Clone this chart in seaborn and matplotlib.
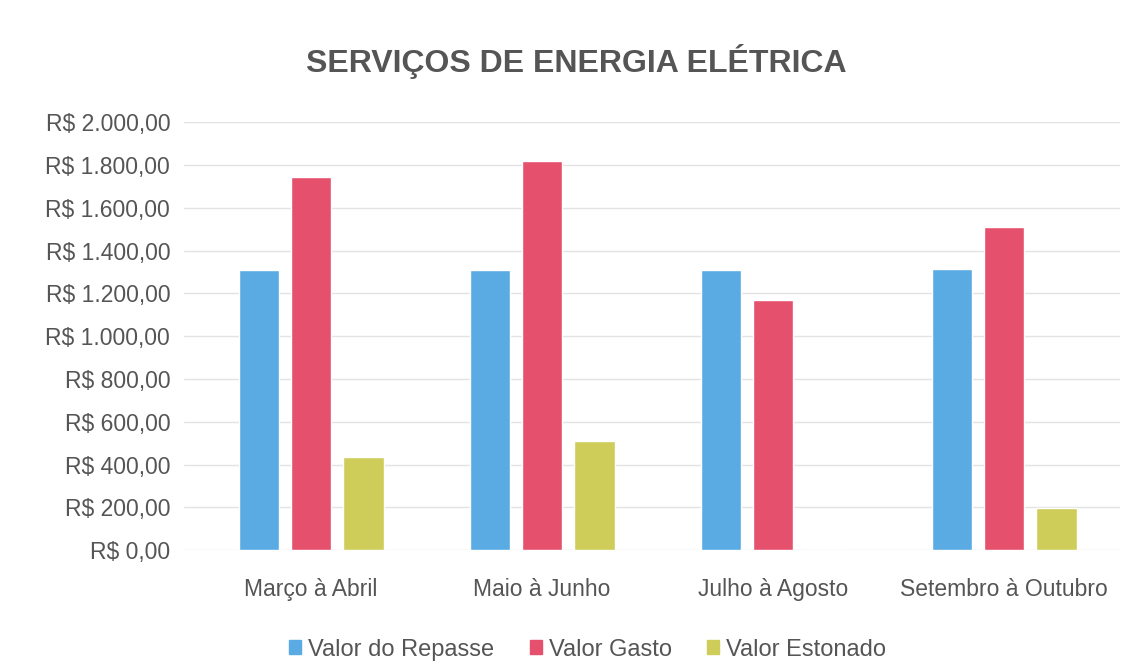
import matplotlib
matplotlib.use("Agg")
import matplotlib.pyplot as plt
from matplotlib.ticker import FuncFormatter, MultipleLocator
from matplotlib.patches import Rectangle
import seaborn as sns
import pandas as pd

categories = ["Março à Abril", "Maio à Junho", "Julho à Agosto", "Setembro à Outubro"]
series = ["Valor do Repasse", "Valor Gasto", "Valor Estonado"]
valor_repasse = [1310, 1310, 1310, 1312]
valor_gasto = [1745, 1820, 1170, 1512]
valor_estonado = [435, 510, 0, 195]
colors = ["#5AABE3", "#E5506D", "#CFCD5A"]

rows = []
for s, vals in zip(series, [valor_repasse, valor_gasto, valor_estonado]):
    for c, v in zip(categories, vals):
        rows.append({"Período": c, "Série": s, "Valor": v})
df = pd.DataFrame(rows)

sns.set_theme(style="white")
plt.rcParams['font.family'] = ['Liberation Sans', 'DejaVu Sans']

fig = plt.figure(figsize=(11.41, 6.71), dpi=100)
ax = fig.add_axes([0.1613, 0.180, 0.8199, 0.638])

sns.barplot(data=df, x="Período", y="Valor", hue="Série", hue_order=series,
            palette=colors, width=0.68, gap=0.23, saturation=1, ax=ax,
            errorbar=None, legend=False)

ax.set_ylim(0, 2000)
ax.set_xlim(-0.55, 3.5)
ax.yaxis.set_major_locator(MultipleLocator(200))

def brl(v, pos):
    s = f"{v:,.2f}".replace(",", "X").replace(".", ",").replace("X", ".")
    return f"R$ {s}"

ax.yaxis.set_major_formatter(FuncFormatter(brl))
ax.grid(axis="y", color="#E3E3E3", linewidth=1)
ax.set_axisbelow(True)
for sp in ax.spines.values():
    sp.set_visible(False)
ax.set_xlabel("")
ax.set_ylabel("")
ax.tick_params(axis="y", labelsize=16.5, colors="#555555", length=0, pad=10)
ax.tick_params(axis="x", labelsize=16.5, colors="#555555", length=0, pad=20)

fig.text(0.505, 0.908, "SERVIÇOS DE ENERGIA ELÉTRICA", ha="center", va="center",
         fontsize=23, fontweight="bold", color="#555555")

handles = [Rectangle((0, 0), 1, 1, color=c) for c in colors]
fig.legend(handles, series, loc="center", bbox_to_anchor=(0.515, 0.032), ncol=3,
           frameon=False, fontsize=17, handlelength=0.5, handleheight=0.5,
           handletextpad=0.3, columnspacing=1.5, labelcolor="#555555")

fig.savefig("out.png", dpi=100, facecolor="white")
